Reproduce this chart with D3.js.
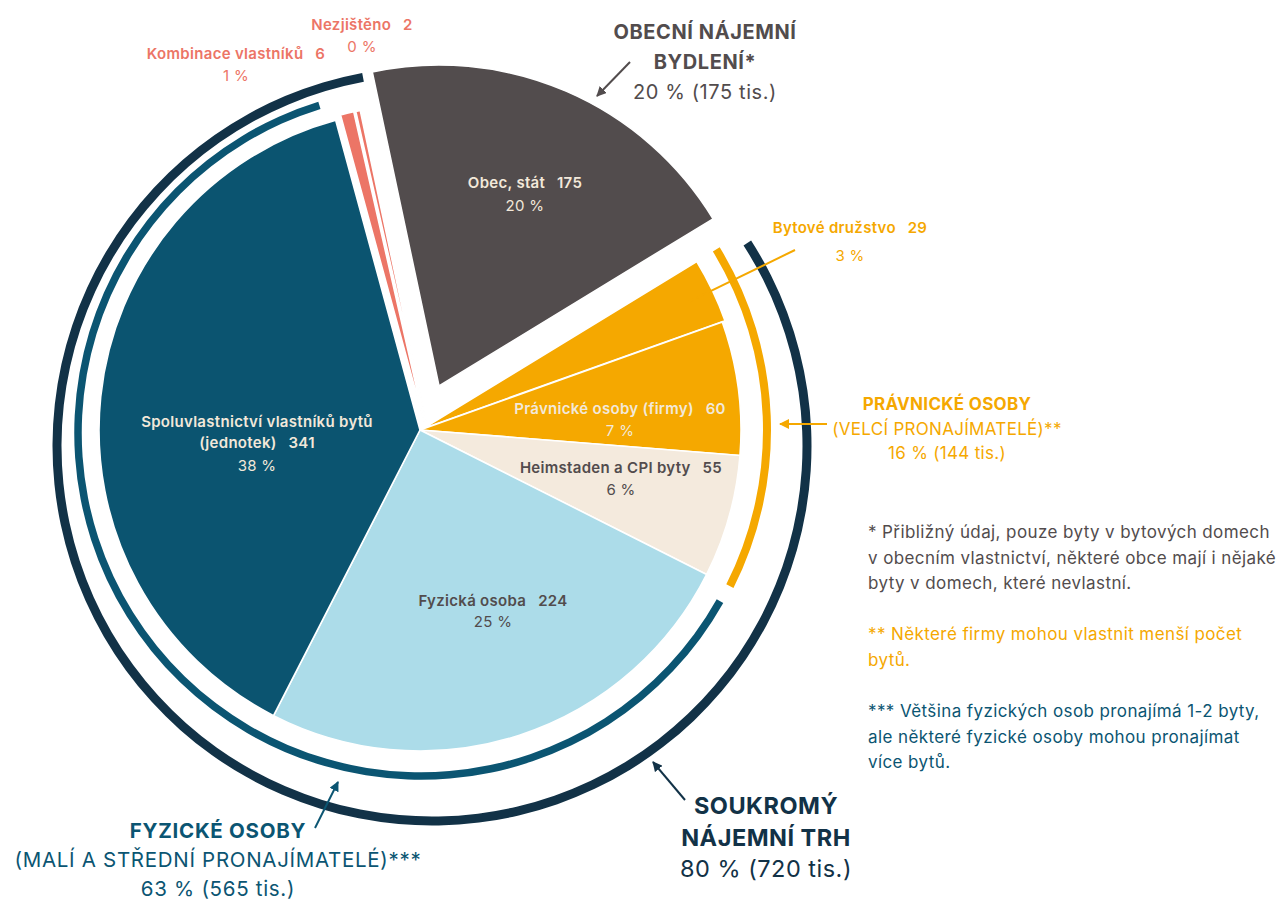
<!DOCTYPE html>
<html>
<head>
<meta charset="utf-8">
<script src="https://cdn.jsdelivr.net/npm/d3@7"></script>
<style>
  body { margin: 0; background: #fff; }
  svg { font-family: Inter, "Noto Sans", sans-serif; }
</style>
</head>
<body>
<div id="chart"></div>
<script>
// slices, clockwise from the exploded municipal slice
var categories = ["Obec, stát", "Bytové družstvo", "Právnické osoby (firmy)", "Heimstaden a CPI byty",
    "Fyzická osoba", "Spoluvlastnictví vlastníků bytů (jednotek)", "Kombinace vlastníků", "Nezjištěno"];
var values = [175, 29, 60, 55, 224, 341, 6, 2];
var percents = ["20 %", "3 %", "7 %", "6 %", "25 %", "38 %", "1 %", "0 %"];

// outer group arcs
var groupNames = ["Soukromý nájemní trh", "Právnické osoby", "Fyzické osoby"];
var groupMembers = [
    ["Bytové družstvo", "Právnické osoby (firmy)", "Heimstaden a CPI byty", "Fyzická osoba",
     "Spoluvlastnictví vlastníků bytů (jednotek)", "Kombinace vlastníků", "Nezjištěno"],
    ["Bytové družstvo", "Právnické osoby (firmy)", "Heimstaden a CPI byty"],
    ["Fyzická osoba", "Spoluvlastnictví vlastníků bytů (jednotek)"]
];
var groupTitles = [["SOUKROMÝ", "NÁJEMNÍ TRH"], ["PRÁVNICKÉ OSOBY", "(VELCÍ PRONAJÍMATELÉ)**"],
    ["FYZICKÉ OSOBY", "(MALÍ A STŘEDNÍ PRONAJÍMATELÉ)***"]];
var groupShares = ["80 % (720 tis.)", "16 % (144 tis.)", "63 % (565 tis.)"];

var publicTitle = ["OBECNÍ NÁJEMNÍ", "BYDLENÍ*"];
var publicShare = "20 % (175 tis.)";

var footnotes = [
    ["* Přibližný údaj, pouze byty v bytových domech", "v obecním vlastnictví, některé obce mají i nějaké",
     "byty v domech, které nevlastní."],
    ["** Některé firmy mohou vlastnit menší počet", "bytů."],
    ["*** Většina fyzických osob pronajímá 1-2 byty,", "ale některé fyzické osoby mohou pronajímat", "více bytů."]
];

// ---- styling / layout ----
var width = 1281, height = 902;
var cx = 420, cy = 430, radius = 321;
var deg = Math.PI / 180;
var startAngle = -12 * deg;

var color = d3.scaleOrdinal()
    .domain(categories)
    .range(["#524c4d", "#f5a800", "#f5a800", "#f4eadd", "#acdce9", "#0b5470", "#ec7566", "#ec7566"]);
// radial and tangential (clockwise) offsets of pulled-out slices
var explode = {"Obec, stát": [48, 0], "Bytové družstvo": [3, 0],
    "Kombinace vlastníků": [4, 6], "Nezjištěno": [4, 8]};

var labelColor = ["#f2e8da", "#f5a800", "#f2e8da", "#524c4d", "#524c4d", "#f2e8da", "#ec7566", "#ec7566"];
var labelPos = [[525, 188], [850, 233], [620, 414], [621, 473], [493, 606], [257, 427], [236, 59], [362, 30]];
var labelGap = [23, 28, 22, 22, 21, 23, 22, 22];

var groupColor = ["#123247", "#f5a800", "#0b5572"];
var groupRing = [ // center x, center y, radius, stroke, pad (deg)
    {x: 432, y: 446, r: 375, w: 9, pad: [-1.4, -1.4]},
    {x: 420, y: 430, r: 347, w: 8, pad: [0, 0]},
    {x: 421, y: 433, r: 343, w: 7.5, pad: [2.6, 2]}
];

var svg = d3.select("#chart").append("svg")
    .attr("width", width)
    .attr("height", height);

var defs = svg.append("defs");
["#524c4d", "#f5a800", "#0b5572", "#123247"].forEach(function (c, i) {
    defs.append("marker")
        .attr("id", "arrow" + i)
        .attr("viewBox", "0 0 10 10")
        .attr("refX", 9).attr("refY", 5)
        .attr("markerWidth", 10).attr("markerHeight", 10)
        .attr("markerUnits", "userSpaceOnUse")
        .attr("orient", "auto")
        .append("path")
        .attr("d", "M0,0 L10,5 L0,10 z")
        .attr("fill", c);
});

var pie = d3.pie()
    .sort(null)
    .value(function (d, i) { return values[i]; })
    .startAngle(startAngle)
    .endAngle(startAngle + 2 * Math.PI);
var arcs = pie(categories);

var arc = d3.arc().innerRadius(0).outerRadius(radius);

var g = svg.append("g").attr("transform", "translate(" + cx + "," + cy + ")");

g.selectAll(".slice")
    .data(arcs)
    .enter().append("path")
    .attr("class", "slice")
    .attr("d", arc)
    .attr("transform", function (d) {
        var e = explode[d.data] || [0, 0], a = (d.startAngle + d.endAngle) / 2;
        var dx = e[0] * Math.sin(a) + e[1] * Math.cos(a),
            dy = -e[0] * Math.cos(a) + e[1] * Math.sin(a);
        return "translate(" + dx + "," + dy + ")";
    })
    .attr("fill", function (d) { return color(d.data); })
    .attr("stroke", "#fff")
    .attr("stroke-width", 1.6)
    .attr("stroke-linejoin", "round");

// group rings
var byName = {};
arcs.forEach(function (a) { byName[a.data] = a; });
groupNames.forEach(function (name, i) {
    var m = groupMembers[i], ring = groupRing[i];
    var a0 = d3.min(m, function (k) { return byName[k].startAngle; }) + ring.pad[0] * deg;
    var a1 = d3.max(m, function (k) { return byName[k].endAngle; }) - ring.pad[1] * deg;
    svg.append("path")
        .attr("transform", "translate(" + ring.x + "," + ring.y + ")")
        .attr("d", d3.arc().innerRadius(ring.r - ring.w / 2).outerRadius(ring.r + ring.w / 2)
            .startAngle(a0).endAngle(a1)())
        .attr("fill", groupColor[i]);
});

// slice labels
arcs.forEach(function (d, i) {
    var p = labelPos[i];
    var t = svg.append("text")
        .attr("x", p[0]).attr("y", p[1])
        .attr("text-anchor", "middle")
        .attr("fill", labelColor[i])
        .style("font-size", "15px")
        .style("letter-spacing", "0.3px");
    if (i === 5) {
        t.append("tspan").attr("x", p[0]).attr("font-weight", 600).text("Spoluvlastnictví vlastníků bytů");
        t.append("tspan").attr("x", p[0]).attr("dy", 21).attr("font-weight", 600)
            .text("(jednotek)\u2002 " + values[i]);
    } else {
        t.append("tspan").attr("x", p[0]).attr("font-weight", 600).text(categories[i] + "\u2002 " + values[i]);
    }
    t.append("tspan").attr("x", p[0]).attr("dy", labelGap[i])
        .attr("font-weight", 400).text(percents[i]);
});

// Bytové družstvo leader line
var by = byName["Bytové družstvo"];
var byMid = (by.startAngle + by.endAngle) / 2;
svg.append("line")
    .attr("x1", cx + 298 * Math.sin(byMid)).attr("y1", cy - 298 * Math.cos(byMid))
    .attr("x2", 795).attr("y2", 250)
    .attr("stroke", "#f5a800").attr("stroke-width", 2);

// annotation blocks: bold title lines (count), then regular lines
function block(lines, nBold, share, x, y, size, shareSize, lh, ls, col) {
    var t = svg.append("text").attr("text-anchor", "middle").attr("fill", col)
        .style("letter-spacing", ls + "px");
    lines.forEach(function (l, j) {
        t.append("tspan").attr("x", x).attr("y", y + j * lh)
            .attr("font-weight", j < nBold ? 700 : 400)
            .style("font-size", size + "px")
            .text(l);
    });
    t.append("tspan").attr("x", x).attr("y", y + lines.length * lh)
        .attr("font-weight", 400).style("font-size", shareSize + "px").text(share);
}
block(publicTitle, 2, publicShare, 705, 39, 20, 20, 30, 0.6, "#524c4d");
block(groupTitles[1], 1, groupShares[1], 947, 410, 17, 17, 24.5, 0.3, "#f5a800");
block(groupTitles[2], 1, groupShares[2], 218, 838, 20.5, 20.5, 29, 0.7, "#0b5572");
block(groupTitles[0], 2, groupShares[0], 766, 814, 23.5, 23.5, 31.5, 0.5, "#123247");

function arrow(x1, y1, x2, y2, m, c) {
    svg.append("line")
        .attr("x1", x1).attr("y1", y1).attr("x2", x2).attr("y2", y2)
        .attr("stroke", c).attr("stroke-width", 2)
        .attr("marker-end", "url(#arrow" + m + ")");
}
arrow(630, 62, 597, 96, 0, "#524c4d");
arrow(827, 424, 780, 424, 1, "#f5a800");
arrow(315, 828, 338, 782, 2, "#0b5572");
arrow(685, 800, 653, 762, 3, "#123247");

// footnotes
var noteColor = ["#524c4d", "#f5a800", "#0b5572"];
var noteY = [538, 640, 717];
footnotes.forEach(function (lines, i) {
    var t = svg.append("text").attr("fill", noteColor[i])
        .style("font-size", "17px").style("letter-spacing", "0.4px");
    lines.forEach(function (l, j) {
        t.append("tspan").attr("x", 868).attr("y", noteY[i] + j * 25.5).text(l);
    });
});
</script>
</body>
</html>
